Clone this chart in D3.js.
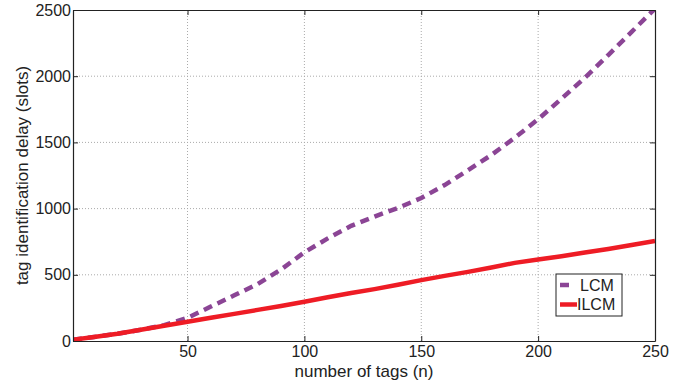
<!DOCTYPE html>
<html lang="en">
<head>
    <meta charset="UTF-8">
    <title>Tag identification delay</title>
    <script src="https://d3js.org/d3.v7.min.js"></script>
    <style>
        body { margin: 0; background: #fff; }
        text { font-family: "Liberation Sans", Arial, Helvetica, sans-serif; fill: #222; }
        .grid line { stroke: #aaa; stroke-width: 1; stroke-dasharray: 1,2; }
    </style>
</head>
<body>
    <script>
        // number of tags (n)
        const tags = [1, 10, 20, 30, 40, 50, 60, 70, 80, 90, 100, 110, 120, 130, 140,
                      150, 160, 170, 180, 190, 200, 210, 220, 230, 240, 250];
        const lcm = [10, 30, 55, 85, 120, 175, 260, 345, 430, 540, 670, 775, 870, 940, 1005,
                     1080, 1178, 1290, 1405, 1535, 1675, 1830, 1988, 2160, 2335, 2510];
        const ilcm = [10, 30, 55, 85, 115, 145, 175, 205, 235, 265, 297, 330, 362, 392, 425,
                      460, 492, 522, 555, 590, 615, 640, 668, 695, 725, 755];
        const xTicks = [50, 100, 150, 200, 250];
        const yTicks = [0, 500, 1000, 1500, 2000, 2500];

        const width = 697, height = 386;
        const mLeft = 73, mRight = 655, mTop = 10, mBottom = 341;

        const svg = d3.select("body").append("svg")
            .attr("width", width)
            .attr("height", height);

        const x = d3.scaleLinear().domain([1, 250]).range([mLeft, mRight]);
        const y = d3.scaleLinear().domain([0, 2500]).range([mBottom, mTop]);

        // grid
        const grid = svg.append("g").attr("class", "grid");
        grid.selectAll(".gx").data(xTicks.slice(0, -1)).enter().append("line")
            .attr("x1", d => x(d)).attr("x2", d => x(d))
            .attr("y1", mTop).attr("y2", mBottom);
        grid.selectAll(".gy").data(yTicks.slice(1, -1)).enter().append("line")
            .attr("x1", mLeft).attr("x2", mRight)
            .attr("y1", d => y(d)).attr("y2", d => y(d));

        // lines
        svg.append("clipPath").attr("id", "clip")
            .append("rect").attr("x", mLeft).attr("y", mTop)
            .attr("width", mRight - mLeft).attr("height", mBottom - mTop);

        const line = d3.line().x((d, i) => x(tags[i])).y(d => y(d));

        svg.append("path")
            .datum(lcm)
            .attr("clip-path", "url(#clip)")
            .attr("d", line)
            .attr("fill", "none")
            .attr("stroke", "#8b4595")
            .attr("stroke-width", 4.5)
            .attr("stroke-dasharray", "9,6");

        svg.append("path")
            .datum(ilcm)
            .attr("clip-path", "url(#clip)")
            .attr("d", line)
            .attr("fill", "none")
            .attr("stroke", "#ee1c25")
            .attr("stroke-width", 4.5);

        // axes (box with inward ticks)
        const tickLen = 5;
        const fmt = d3.format("d");
        svg.append("g").attr("transform", `translate(0,${mBottom})`)
            .call(d3.axisBottom(x).tickValues(xTicks).tickFormat(fmt).tickSizeInner(-tickLen).tickSizeOuter(0).tickPadding(5))
            .call(g => g.selectAll("text").attr("font-size", 16).attr("dy", "0.71em"));
        svg.append("g").attr("transform", `translate(0,${mTop})`)
            .call(d3.axisTop(x).tickValues(xTicks).tickSizeInner(-tickLen).tickSizeOuter(0).tickFormat(""));
        svg.append("g").attr("transform", `translate(${mLeft},0)`)
            .call(d3.axisLeft(y).tickValues(yTicks).tickFormat(fmt).tickSizeInner(-tickLen).tickSizeOuter(0).tickPadding(2))
            .call(g => g.selectAll("text").attr("font-size", 16));
        svg.append("g").attr("transform", `translate(${mRight},0)`)
            .call(d3.axisRight(y).tickValues(yTicks).tickSizeInner(-tickLen).tickSizeOuter(0).tickFormat(""));
        svg.selectAll(".domain").attr("stroke", "#222").attr("stroke-width", 1.2);
        svg.selectAll(".tick line").attr("stroke", "#222");
        svg.selectAll(".tick text").attr("fill", "#222");

        // axis labels
        svg.append("text")
            .attr("x", (mLeft + mRight) / 2)
            .attr("y", 376.5)
            .attr("text-anchor", "middle")
            .attr("font-size", 17)
            .text("number of tags (n)");
        svg.append("text")
            .attr("transform", `translate(28,${(mTop + mBottom) / 2}) rotate(-90)`)
            .attr("text-anchor", "middle")
            .attr("font-size", 17)
            .text("tag identification delay (slots)");

        // legend
        const legend = svg.append("g").attr("transform", "translate(556,274)");
        legend.append("rect")
            .attr("width", 66).attr("height", 42)
            .attr("fill", "#fff").attr("stroke", "#222").attr("stroke-width", 1);
        const entries = [
            { name: "LCM", color: "#8b4595", len: 9 },
            { name: "ILCM", color: "#ee1c25", len: 17 }
        ];
        entries.forEach((e, i) => {
            const cy = 11 + i * 19.5;
            legend.append("line")
                .attr("x1", 4).attr("x2", 4 + e.len)
                .attr("y1", cy).attr("y2", cy)
                .attr("stroke", e.color).attr("stroke-width", 4.5);
            legend.append("text")
                .attr("x", i === 0 ? 24 : 21)
                .attr("y", cy)
                .attr("dy", "0.36em")
                .attr("font-size", 16)
                .text(e.name);
        });
    </script>
</body>
</html>
